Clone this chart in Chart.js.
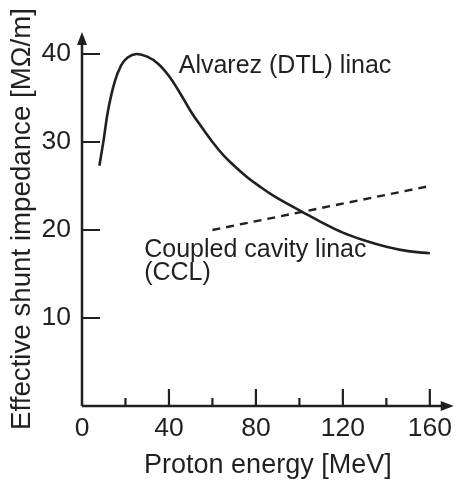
<!DOCTYPE html>
<html>
<head>
<meta charset="utf-8">
<script src="https://cdn.jsdelivr.net/npm/chart.js@4"></script>
<style>
  html, body { margin: 0; padding: 0; background: #fff; }
  canvas { display: block; }
</style>
</head>
<body>
<canvas id="grafico" width="459" height="487"></canvas>
<script>
// energia (MeV) e impedancia (MOhm/m)
const dtlEnergia = [8, 10, 12, 15, 18, 21, 25, 30, 35, 40, 45, 50, 55, 60, 65, 70, 76, 82, 88, 95, 101, 110, 120, 130, 140, 150, 160];
const dtlImpedancia = [27.3, 30.3, 33.6, 36.8, 38.7, 39.6, 40, 39.7, 38.9, 37.5, 35.6, 33.5, 31.7, 30.0, 28.5, 27.3, 26.0, 24.9, 23.9, 22.9, 22.1, 20.9, 19.7, 18.8, 18.1, 17.6, 17.35];
const cclEnergia = [60, 160];
const cclImpedancia = [20, 25];

const xTicks = [0, 40, 80, 120, 160];
const xMinorTicks = [20, 60, 100, 140];
const yTicks = [10, 20, 30, 40];

const rotulos = [
    { texto: 'Alvarez (DTL) linac', x: 44.5, y: 37.8 },
    { texto: 'Coupled cavity linac', x: 28.6, y: 16.9 },
    { texto: '(CCL)', x: 28.6, y: 14.3 }
];

const cor = '#231f20';
const fonte = '"Liberation Sans", Arial, Helvetica, sans-serif';

function pontos(xs, ys) {
    return xs.map((x, i) => ({ x: x, y: ys[i] }));
}

// desenha eixos com setas, ticks internos e rotulos
const eixosPlugin = {
    id: 'eixos',
    afterDraw(chart) {
        const ctx = chart.ctx;
        const xs = chart.scales.x;
        const ys = chart.scales.y;
        const x0 = xs.getPixelForValue(0);
        const y0 = ys.getPixelForValue(0);
        const xEnd = xs.right;
        const yEnd = ys.top;

        ctx.save();
        ctx.strokeStyle = cor;
        ctx.fillStyle = cor;
        ctx.lineWidth = 2.5;
        ctx.lineCap = 'butt';

        ctx.beginPath();
        ctx.moveTo(x0, y0);
        ctx.lineTo(xEnd - 8, y0);
        ctx.moveTo(x0, y0);
        ctx.lineTo(x0, yEnd + 8);
        ctx.stroke();

        // setas
        ctx.beginPath();
        ctx.moveTo(xEnd, y0);
        ctx.lineTo(xEnd - 13, y0 - 5);
        ctx.lineTo(xEnd - 13, y0 + 5);
        ctx.closePath();
        ctx.fill();
        ctx.beginPath();
        ctx.moveTo(x0, yEnd);
        ctx.lineTo(x0 - 5, yEnd + 13);
        ctx.lineTo(x0 + 5, yEnd + 13);
        ctx.closePath();
        ctx.fill();

        ctx.lineWidth = 2.2;
        ctx.beginPath();
        xTicks.forEach(v => {
            if (v === 0) return;
            const px = xs.getPixelForValue(v);
            ctx.moveTo(px, y0);
            ctx.lineTo(px, y0 - 17);
        });
        xMinorTicks.forEach(v => {
            const px = xs.getPixelForValue(v);
            ctx.moveTo(px, y0);
            ctx.lineTo(px, y0 - 8);
        });
        yTicks.forEach(v => {
            const py = ys.getPixelForValue(v);
            ctx.moveTo(x0, py);
            ctx.lineTo(x0 + 18, py);
        });
        ctx.stroke();

        ctx.font = '25px ' + fonte;
        ctx.textAlign = 'left';
        ctx.textBaseline = 'alphabetic';
        rotulos.forEach(r => {
            ctx.fillText(r.texto, xs.getPixelForValue(r.x), ys.getPixelForValue(r.y));
        });
        ctx.restore();
    }
};

const ctx = document.getElementById('grafico').getContext('2d');
new Chart(ctx, {
    type: 'line',
    data: {
        datasets: [{
            label: 'Alvarez (DTL) linac',
            data: pontos(dtlEnergia, dtlImpedancia),
            borderColor: cor,
            borderWidth: 2.6,
            pointRadius: 0,
            tension: 0.4,
            clip: false
        }, {
            label: 'Coupled cavity linac (CCL)',
            data: pontos(cclEnergia, cclImpedancia),
            borderColor: cor,
            borderWidth: 2.4,
            borderDash: [8, 6],
            pointRadius: 0,
            clip: false
        }]
    },
    options: {
        responsive: false,
        animation: false,
        layout: { padding: { top: 32, right: 1, bottom: 0, left: 0 } },
        plugins: {
            legend: { display: false },
            tooltip: { enabled: false }
        },
        scales: {
            x: {
                type: 'linear',
                min: 0,
                max: 171,
                afterBuildTicks: scale => { scale.ticks = xTicks.map(v => ({ value: v })); },
                afterFit: scale => { scale.height = 81; },
                grid: { display: false, drawTicks: false },
                border: { display: false },
                ticks: {
                    padding: 7,
                    color: cor,
                    font: { family: fonte, size: 26.5 },
                    maxRotation: 0,
                    autoSkip: false
                },
                title: {
                    display: true,
                    text: 'Proton energy [MeV]',
                    color: cor,
                    font: { family: fonte, size: 27 },
                    padding: { top: 0, bottom: 5 }
                }
            },
            y: {
                type: 'linear',
                min: 0,
                max: 42.5,
                afterBuildTicks: scale => { scale.ticks = yTicks.map(v => ({ value: v })); },
                afterFit: scale => { scale.width = 82; },
                grid: { display: false, drawTicks: false },
                border: { display: false },
                ticks: {
                    padding: 11,
                    color: cor,
                    font: { family: fonte, size: 26.5 },
                    autoSkip: false
                },
                title: {
                    display: true,
                    text: 'Effective shunt impedance [MΩ/m]',
                    color: cor,
                    font: { family: fonte, size: 27.7 },
                    padding: { top: 6, bottom: 0 }
                }
            }
        }
    },
    plugins: [eixosPlugin]
});
</script>
</body>
</html>
